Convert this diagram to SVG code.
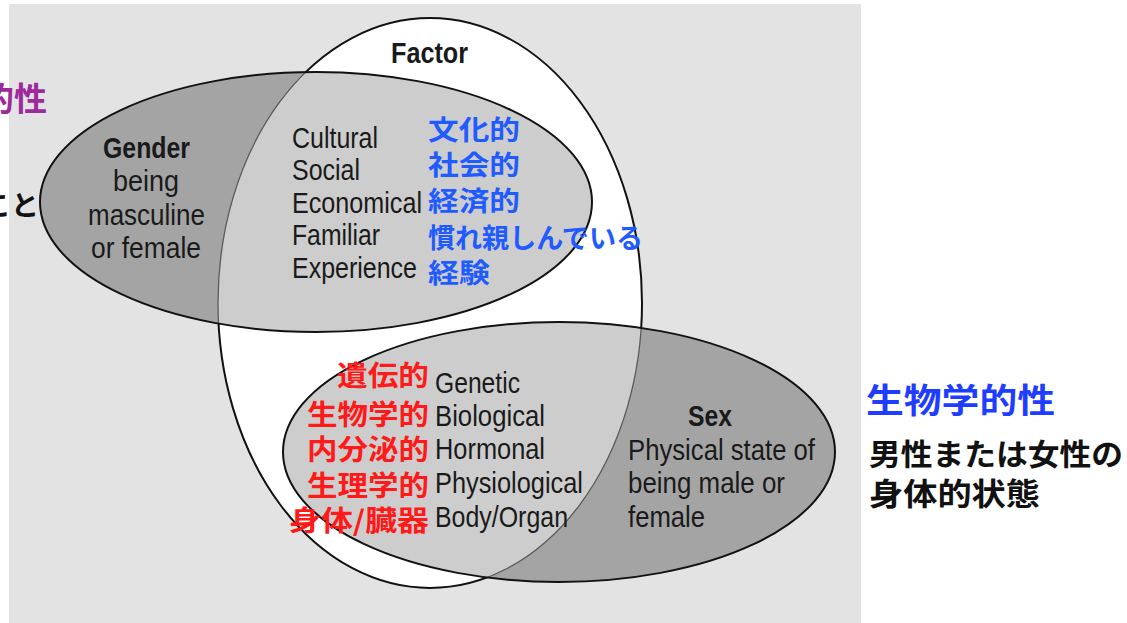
<svg xmlns="http://www.w3.org/2000/svg" width="1127" height="623" viewBox="0 0 1127 623">
<defs>
<clipPath id="clipFactor"><ellipse cx="430" cy="303" rx="212" ry="285"/></clipPath>
<clipPath id="clipGS"><ellipse cx="316" cy="202" rx="276" ry="130"/><ellipse cx="559" cy="452" rx="276" ry="130"/></clipPath>
<style>
.en{font-family:"Liberation Sans",Arial,sans-serif;font-size:30px;fill:#1a1a1a}
.enb{font-family:"Liberation Sans",Arial,sans-serif;font-size:30px;font-weight:bold;fill:#1a1a1a}
.jp{font-family:"Noto Sans CJK JP","Noto Sans CJK SC",sans-serif;font-weight:bold}
.blue{fill:#1f5bff;font-size:27px}
.red{fill:#ff1a1a;font-size:28px}
.dark{fill:#a4a4a4}
.light{fill:#cdcdcd}
.outline{fill:none;stroke:#111;stroke-width:2}
</style>
</defs>
<rect x="9" y="4" width="852" height="619" fill="#e3e3e3"/>
<g id="factor">
<ellipse cx="430" cy="303" rx="212" ry="285" fill="#fff" stroke="#111" stroke-width="2"/>
</g>
<g id="gender">
<ellipse class="dark" cx="316" cy="202" rx="276" ry="130"/>
<ellipse class="light" cx="316" cy="202" rx="276" ry="130" clip-path="url(#clipFactor)"/>
</g>
<g id="sex">
<ellipse class="dark" cx="559" cy="452" rx="276" ry="130"/>
<ellipse class="light" cx="559" cy="452" rx="276" ry="130" clip-path="url(#clipFactor)"/>
</g>
<g id="outlines">
<ellipse cx="430" cy="303" rx="212" ry="285" fill="none" stroke="#5a5a5a" stroke-width="1.3" clip-path="url(#clipGS)"/>
<ellipse class="outline" cx="316" cy="202" rx="276" ry="130"/>
<ellipse class="outline" cx="559" cy="452" rx="276" ry="130"/>
</g>
<g id="connectors"/>
<g id="factor-label">
<text class="enb" x="391" y="63" textLength="77" lengthAdjust="spacingAndGlyphs">Factor</text>
</g>
<g id="gender-label">
<text class="enb" x="103" y="158" textLength="87" lengthAdjust="spacingAndGlyphs">Gender</text>
<text class="en" x="113" y="191" textLength="66" lengthAdjust="spacingAndGlyphs">being</text>
<text class="en" x="88" y="225" textLength="117" lengthAdjust="spacingAndGlyphs">masculine</text>
<text class="en" x="91" y="258" textLength="110" lengthAdjust="spacingAndGlyphs">or female</text>
</g>
<g id="social-factors">
<text class="en" x="292" y="148" textLength="86" lengthAdjust="spacingAndGlyphs">Cultural</text>
<text class="en" x="292" y="180" textLength="68" lengthAdjust="spacingAndGlyphs">Social</text>
<text class="en" x="292" y="213" textLength="130" lengthAdjust="spacingAndGlyphs">Economical</text>
<text class="en" x="292" y="245" textLength="88" lengthAdjust="spacingAndGlyphs">Familiar</text>
<text class="en" x="292" y="278" textLength="125" lengthAdjust="spacingAndGlyphs">Experience</text>
<text class="jp blue" x="428" y="140" textLength="92" lengthAdjust="spacingAndGlyphs">文化的</text>
<text class="jp blue" x="428" y="175" textLength="92" lengthAdjust="spacingAndGlyphs">社会的</text>
<text class="jp blue" x="428" y="211" textLength="92" lengthAdjust="spacingAndGlyphs">経済的</text>
<text class="jp blue" x="428" y="248" textLength="215" lengthAdjust="spacingAndGlyphs">慣れ親しんでいる</text>
<text class="jp blue" x="428" y="283" textLength="62" lengthAdjust="spacingAndGlyphs">経験</text>
</g>
<g id="bio-factors">
<text class="jp red" x="337" y="386" textLength="92" lengthAdjust="spacingAndGlyphs">遺伝的</text>
<text class="jp red" x="307" y="425" textLength="122" lengthAdjust="spacingAndGlyphs">生物学的</text>
<text class="jp red" x="307" y="460" textLength="122" lengthAdjust="spacingAndGlyphs">内分泌的</text>
<text class="jp red" x="307" y="496" textLength="122" lengthAdjust="spacingAndGlyphs">生理学的</text>
<text class="jp red" x="289" y="531" textLength="140" lengthAdjust="spacingAndGlyphs">身体/臓器</text>
<text class="en" x="435" y="393" textLength="85" lengthAdjust="spacingAndGlyphs">Genetic</text>
<text class="en" x="435" y="426" textLength="110" lengthAdjust="spacingAndGlyphs">Biological</text>
<text class="en" x="435" y="459" textLength="110" lengthAdjust="spacingAndGlyphs">Hormonal</text>
<text class="en" x="435" y="493" textLength="148" lengthAdjust="spacingAndGlyphs">Physiological</text>
<text class="en" x="435" y="527" textLength="133" lengthAdjust="spacingAndGlyphs">Body/Organ</text>
</g>
<g id="sex-label">
<text class="enb" x="688" y="426" textLength="44" lengthAdjust="spacingAndGlyphs">Sex</text>
<text class="en" x="628" y="460" textLength="187" lengthAdjust="spacingAndGlyphs">Physical state of</text>
<text class="en" x="628" y="493" textLength="157" lengthAdjust="spacingAndGlyphs">being male or</text>
<text class="en" x="628" y="527" textLength="77" lengthAdjust="spacingAndGlyphs">female</text>
</g>
<g id="right-notes">
<text class="jp" x="866" y="413" font-size="34" fill="#1f3dff" textLength="189" lengthAdjust="spacingAndGlyphs">生物学的性</text>
<text class="jp" x="869" y="465" font-size="30" fill="#111" textLength="254" lengthAdjust="spacingAndGlyphs">男性または女性の</text>
<text class="jp" x="869" y="505" font-size="31" fill="#111" textLength="171" lengthAdjust="spacingAndGlyphs">身体的状態</text>
</g>
<g id="left-notes">
<text class="jp" x="-19" y="111" font-size="33" fill="#9c2a9c">的性</text>
<text class="jp" x="-17" y="216" font-size="28" fill="#111">こと</text>
</g>
</svg>
